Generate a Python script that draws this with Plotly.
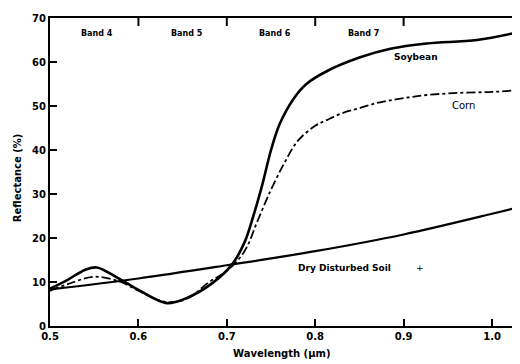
import plotly.graph_objects as go

# Soybean (solid)
soy_wl = [0.50, 0.52, 0.54, 0.553, 0.576, 0.60, 0.632, 0.655, 0.684, 0.706, 0.72, 0.73, 0.74,
          0.75, 0.76, 0.775, 0.79, 0.813, 0.85, 0.885, 0.926, 0.983, 1.03]
soy_r = [8.5, 10.5, 12.8, 13.3, 11.0, 8.2, 5.2, 6.4, 9.8, 14.0, 19.0, 25.0, 32.0,
         40.0, 46.0, 51.5, 55.0, 57.9, 61.0, 63.0, 64.2, 65.0, 66.8]

# Corn (dash-dot)
corn_wl = [0.50, 0.52, 0.55, 0.58, 0.60, 0.63, 0.655, 0.68, 0.70, 0.72, 0.735, 0.75, 0.765,
           0.78, 0.80, 0.813, 0.831, 0.85, 0.87, 0.888, 0.907, 0.926, 0.964, 1.0, 1.03]
corn_r = [8.0, 9.5, 11.2, 10.0, 8.0, 5.5, 6.2, 10.0, 12.5, 17.0, 24.0, 31.0, 37.0,
          42.0, 45.5, 46.8, 48.4, 49.5, 50.7, 51.4, 52.0, 52.5, 53.0, 53.2, 53.6]

# Dry disturbed soil (solid)
soil_wl = [0.50, 0.60, 0.70, 0.80, 0.90, 1.00, 1.03]
soil_r = [8.3, 10.8, 13.8, 17.0, 20.8, 25.5, 27.0]

band_edges = [0.6, 0.7, 0.8, 0.9]
band_names = ["Band 4", "Band 5", "Band 6", "Band 7"]
band_centers = [0.553, 0.655, 0.755, 0.855]

x_ticks = [0.5, 0.6, 0.7, 0.8, 0.9, 1.0]
x_tick_text = ["0.5", "0.6", "0.7", "0.8", "0.9", "1.0"]
y_ticks = [0, 10, 20, 30, 40, 50, 60, 70]

FONT = "DejaVu Sans"

fig = go.Figure()
fig.add_trace(go.Scatter(x=soil_wl, y=soil_r, mode="lines",
                         line=dict(color="black", width=2.2, shape="spline"), showlegend=False))
fig.add_trace(go.Scatter(x=corn_wl, y=corn_r, mode="lines",
                         line=dict(color="black", width=1.8, dash="dashdot", shape="spline"), showlegend=False))
fig.add_trace(go.Scatter(x=soy_wl, y=soy_r, mode="lines",
                         line=dict(color="black", width=2.6, shape="spline"), showlegend=False))

shapes = []
for e in band_edges:
    shapes.append(dict(type="line", xref="x", yref="y", x0=e, x1=e, y0=70, y1=68.2,
                       line=dict(color="black", width=2)))
fig.update_layout(shapes=shapes)

ann = []
for n, c in zip(band_names, band_centers):
    ann.append(dict(x=c, y=66.4, xref="x", yref="y", text="<b>" + n + "</b>", showarrow=False,
                    font=dict(family=FONT, size=8, color="black")))
ann.append(dict(x=0.914, y=61.1, xref="x", yref="y", text="<b>Soybean</b>", showarrow=False,
                font=dict(family=FONT, size=9, color="black")))
ann.append(dict(x=0.968, y=50.2, xref="x", yref="y", text="Corn", showarrow=False,
                font=dict(family=FONT, size=10, color="black")))
ann.append(dict(x=0.833, y=13.2, xref="x", yref="y", text="<b>Dry Disturbed Soil</b>", showarrow=False,
                font=dict(family=FONT, size=9, color="black")))
ann.append(dict(x=0.918, y=13.2, xref="x", yref="y", text="+", showarrow=False,
                font=dict(family=FONT, size=9, color="black")))
ann.append(dict(x=0.495, y=0, xref="paper", yref="paper", text="<b>Wavelength (μm)</b>", showarrow=False,
                yanchor="top", yshift=-20, font=dict(family=FONT, size=10, color="black")))
ann.append(dict(x=0, y=0.48, xref="paper", yref="paper", text="<b>Reflectance (%)</b>", showarrow=False,
                xanchor="center", xshift=-33, textangle=-90, font=dict(family=FONT, size=10, color="black")))
fig.update_layout(annotations=ann)

# page body has an 8px default margin, so the figure is sized/offset to compensate
fig.update_layout(
    width=512, height=356,
    margin=dict(l=42, r=1, t=10, b=38),
    paper_bgcolor="white", plot_bgcolor="white",
    xaxis=dict(range=[0.5, 1.0305], tickvals=x_ticks, ticktext=x_tick_text,
               showgrid=False, zeroline=False, showline=True, linecolor="black", linewidth=2,
               mirror=True, ticks="inside", ticklen=7, tickwidth=2, tickcolor="black",
               tickfont=dict(family=FONT, size=10, color="black", weight="bold")),
    yaxis=dict(range=[0, 70], tickvals=y_ticks,
               showgrid=False, zeroline=False, showline=True, linecolor="black", linewidth=2,
               ticks="inside", ticklen=7, tickwidth=2, tickcolor="black",
               tickfont=dict(family=FONT, size=10, color="black", weight="bold")),
)

fig.write_html("out.html")
